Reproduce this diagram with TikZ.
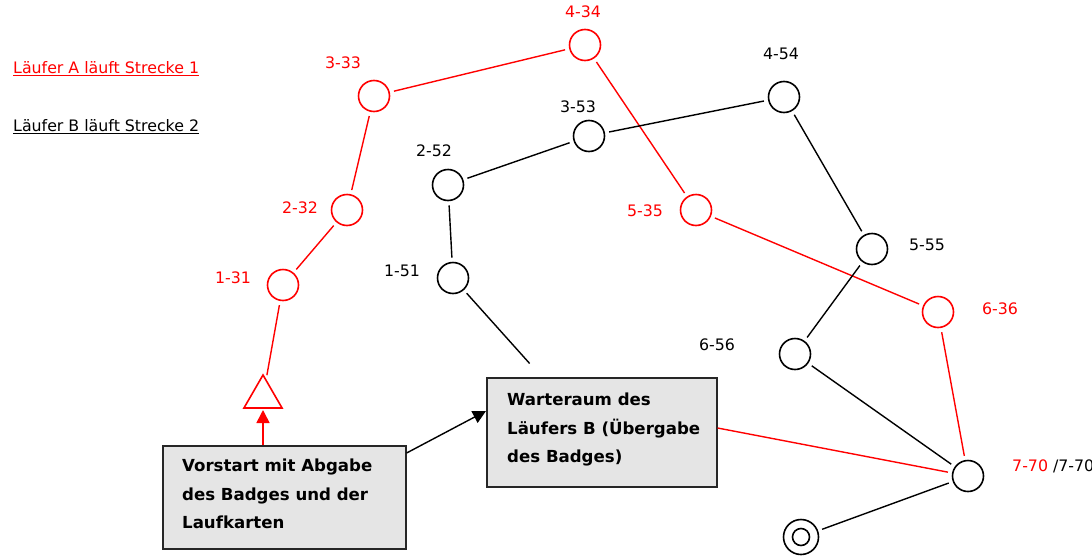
\documentclass[tikz,border=0pt]{standalone}
\usepackage{fontspec}
\setmainfont{DejaVu Sans}
\usetikzlibrary{arrows.meta}
\usetikzlibrary{shapes.geometric}

\tikzset{
    post/.style={circle, draw, line width=1.6pt, minimum size=31pt, inner sep=0pt, outer sep=3pt},
    lbl/.style={font=\fontsize{15.8}{18}\selectfont, inner sep=0pt},
    infobox/.style={draw=black!85, line width=1.6pt, fill=black!10, inner sep=0pt, anchor=north west},
    boxtext/.style={font=\fontsize{16.6}{28.5}\selectfont\bfseries, align=left, anchor=north west, inner sep=0pt},
    path/.style={line width=1.4pt, shorten <=2pt, shorten >=2pt}
}

\begin{document}
\begin{tikzpicture}[x=1pt, y=-1pt, >={Triangle[length=13pt, width=13pt]}]
    \useasboundingbox (0,0) rectangle (1092,557);

    % legend
    \node[lbl, red, anchor=west] (legA) at (13,69) {\underline{Läufer A läuft Strecke 1}};
    \node[lbl, anchor=west] (legB) at (13,127) {\underline{Läufer B läuft Strecke 2}};

    % route A
    \node[post, red] (a1) at (283,285) {};
    \node[post, red] (a2) at (347,210) {};
    \node[post, red] (a3) at (374,96) {};
    \node[post, red] (a4) at (585,45) {};
    \node[post, red] (a5) at (696,210) {};
    \node[post, red] (a6) at (938,312) {};

    % route B
    \node[post] (b1) at (453,278) {};
    \node[post] (b2) at (448,185) {};
    \node[post] (b3) at (589,136) {};
    \node[post] (b4) at (784,97) {};
    \node[post] (b5) at (872,249) {};
    \node[post] (b6) at (795,354) {};

    \node[post] (z) at (968,476) {};
    \node[circle, draw, line width=1.6pt, minimum size=35pt, inner sep=0pt, outer sep=3pt] (ziel) at (801,537) {};
    \node[circle, draw, line width=1.6pt, minimum size=17pt, inner sep=0pt] (zielin) at (ziel) {};

    \node[regular polygon, regular polygon sides=3, draw=red, line width=1.6pt,
        minimum size=44pt, inner sep=0pt, outer sep=2pt] (start) at (263,397) {};

    % labels
    \node[lbl, red] (la1) at (233,278) {1-31};
    \node[lbl, red] (la2) at (300,208) {2-32};
    \node[lbl, red] (la3) at (343,63) {3-33};
    \node[lbl, red] (la4) at (583,12) {4-34};
    \node[lbl, red] (la5) at (645,211) {5-35};
    \node[lbl, red] (la6) at (1000,309) {6-36};
    \node[lbl] (lb1) at (402,271) {1-51};
    \node[lbl] (lb2) at (434,151) {2-52};
    \node[lbl] (lb3) at (578,107) {3-53};
    \node[lbl] (lb4) at (781,54) {4-54};
    \node[lbl] (lb5) at (927,245) {5-55};
    \node[lbl] (lb6) at (717,345) {6-56};
    \node[lbl, anchor=west] (lz) at (1012,466) {\textcolor{red}{7-70} /7-70};

    % boxes
    \node[infobox, minimum width=243pt, minimum height=103pt] (vor) at (162,445) {};
    \node[boxtext] (vortxt) at (182,459) {Vorstart mit Abgabe\\des Badges und der\\Laufkarten};
    \node[infobox, minimum width=230pt, minimum height=109pt] (warte) at (486,377) {};
    \node[boxtext] (wartetxt) at (507,393) {Warteraum des\\Läufers B (Übergabe\\des Badges)};
    \coordinate (wtop) at (531,365);

    % route A
    \draw[path, red] (a1) -- (start);
    \draw[path, red] (a2) -- (a1);
    \draw[path, red] (a3) -- (a2);
    \draw[path, red] (a3) -- (a4);
    \draw[path, red] (a4) -- (a5);
    \draw[path, red] (a5) -- (a6);
    \draw[path, red] (a6) -- (z);
    \draw[line width=1.4pt, red, shorten >=2pt] (warte.east |- 0,428) -- (z);

    % route B
    \draw[path] (b1) -- (wtop);
    \draw[path] (b1) -- (b2);
    \draw[path] (b2) -- (b3);
    \draw[path] (b3) -- (b4);
    \draw[path] (b4) -- (b5);
    \draw[path] (b5) -- (b6);
    \draw[path] (b6) -- (z);
    \draw[path] (z) -- (ziel);

    % arrows
    \draw[->, red, line width=1.6pt] (vor.north -| start) -- (start.south);
    \draw[->, line width=1.4pt] (vor.north east |- 0,453) -- (warte.west |- 0,411);
\end{tikzpicture}
\end{document}
